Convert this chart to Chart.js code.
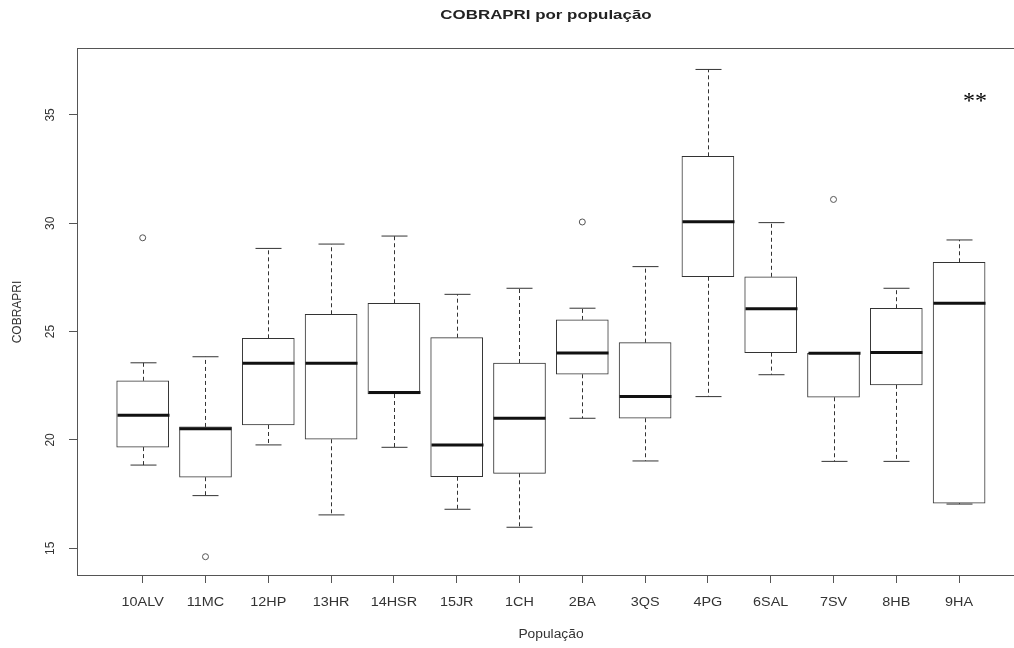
<!DOCTYPE html>
<html>
<head>
<meta charset="utf-8">
<title>COBRAPRI por população</title>
<script src="https://cdn.jsdelivr.net/npm/chart.js@4/dist/chart.umd.min.js"></script>
<style>
  html, body { margin: 0; padding: 0; background: #fff; overflow: hidden; }
  #wrap { width: 1014px; height: 648px; overflow: hidden; }
  #grafico { display: block; }
</style>
</head>
<body>
<div id="wrap"><canvas id="grafico" width="1020" height="648"></canvas></div>
<script>
// ==========================================
// 1. DADOS (lidos do boxplot original)
// ==========================================
const populacoes = ['10ALV', '11MC', '12HP', '13HR', '14HSR', '15JR', '1CH', '2BA', '3QS', '4PG', '6SAL', '7SV', '8HB', '9HA'];
const limInferior = [18.84, 17.43, 19.77, 16.54, 19.66, 16.80, 15.97, 21.00, 19.03, 22.00, 23.01, 19.01, 19.01, 17.04];
const quartil1    = [19.67, 18.28, 20.69, 20.03, 22.12, 18.30, 18.46, 23.03, 21.00, 27.53, 24.03, 21.97, 22.54, 17.08];
const mediana     = [21.14, 20.52, 23.54, 23.54, 22.19, 19.77, 21.00, 24.01, 22.00, 30.07, 26.06, 24.00, 24.03, 26.31];
const quartil3    = [22.73, 20.60, 24.69, 25.80, 26.31, 24.72, 23.55, 25.54, 24.49, 33.09, 27.53, 24.00, 26.08, 28.20];
const limSuperior = [23.56, 23.84, 28.84, 29.04, 29.41, 26.72, 27.00, 26.08, 28.00, 37.10, 30.03, 24.00, 27.00, 29.23];

// valores atípicos (círculos)
const outlierPop   = ['10ALV', '11MC', '2BA', '7SV'];
const outlierValor = [29.33, 14.61, 30.06, 31.10];

const yTicks = [15, 20, 25, 30, 35];

// ==========================================
// 2. PLUGIN: bigodes, medianas, moldura e textos
// ==========================================
function texto(ctx, str, x, y, font, cor, esticar, girar) {
  ctx.save();
  ctx.translate(x, y);
  if (girar) {
    ctx.rotate(-Math.PI / 2);
    ctx.scale(1, esticar);
  } else {
    ctx.scale(esticar, 1);
  }
  ctx.font = font;
  ctx.fillStyle = cor;
  ctx.textAlign = 'center';
  ctx.textBaseline = 'middle';
  ctx.fillText(str, 0, 0);
  ctx.restore();
}

function linha(ctx, x1, y1, x2, y2) {
  ctx.beginPath();
  ctx.moveTo(x1, y1);
  ctx.lineTo(x2, y2);
  ctx.stroke();
}

const pluginBoxplot = {
  id: 'pluginBoxplot',
  beforeDraw(chart) {
    const ctx = chart.ctx;
    ctx.save();
    ctx.fillStyle = '#ffffff';
    ctx.fillRect(0, 0, chart.width, chart.height);
    ctx.restore();
  },
  afterDatasetsDraw(chart) {
    const { ctx, scales: { x, y } } = chart;
    const meta = chart.getDatasetMeta(0);
    ctx.save();
    ctx.strokeStyle = '#333';
    populacoes.forEach((p, i) => {
      const barra = meta.data[i];
      const cx = Math.round(x.getPixelForValue(i + 1)) + 0.5;
      const meia = barra.width / 2;
      const yInf = y.getPixelForValue(limInferior[i]);
      const yQ1 = y.getPixelForValue(quartil1[i]);
      const yMed = y.getPixelForValue(mediana[i]);
      const yQ3 = y.getPixelForValue(quartil3[i]);
      const ySup = y.getPixelForValue(limSuperior[i]);

      // bigodes tracejados
      ctx.lineWidth = 1;
      ctx.setLineDash([4, 3]);
      if (ySup < yQ3) linha(ctx, cx, yQ3, cx, ySup);
      if (yInf > yQ1) linha(ctx, cx, yQ1, cx, yInf);
      ctx.setLineDash([]);

      // traços nas pontas (metade da largura da caixa)
      linha(ctx, cx - meia / 2, ySup, cx + meia / 2, ySup);
      linha(ctx, cx - meia / 2, yInf, cx + meia / 2, yInf);

      // mediana grossa
      ctx.strokeStyle = '#111';
      ctx.lineWidth = 3;
      linha(ctx, cx - meia, yMed, cx + meia, yMed);
      ctx.strokeStyle = '#333';
    });
    ctx.restore();
  },
  afterDraw(chart) {
    const { ctx, chartArea: a, scales: { x, y } } = chart;
    ctx.save();
    // moldura
    ctx.strokeStyle = '#555';
    ctx.lineWidth = 1;
    ctx.strokeRect(Math.round(a.left) + 0.5, Math.round(a.top) + 0.5,
      Math.round(a.right - a.left), Math.round(a.bottom - a.top) - 1);
    ctx.restore();

    const centroX = (a.left + a.right) / 2;
    const centroY = (a.top + a.bottom) / 2;

    // título
    texto(ctx, 'COBRAPRI por população', centroX, 15, 'bold 13px "Liberation Sans", Arial, sans-serif', '#222', 1.3, false);

    // rótulos do eixo x
    populacoes.forEach((p, i) => {
      texto(ctx, p, x.getPixelForValue(i + 1), 603, '12px "Liberation Sans", Arial, sans-serif', '#333', 1.2, false);
    });
    texto(ctx, 'População', centroX + 5, 635, '12px "Liberation Sans", Arial, sans-serif', '#333', 1.15, false);

    // rótulos do eixo y (verticais, como no R)
    yTicks.forEach(v => {
      texto(ctx, String(v), 51, y.getPixelForValue(v), '12px "Liberation Sans", Arial, sans-serif', '#333', 1.0, true);
    });
    texto(ctx, 'COBRAPRI', 18, centroY, '12px "Liberation Sans", Arial, sans-serif', '#333', 1.0, true);

    // marca de significância
    ctx.save();
    ctx.font = '24px "Liberation Serif", "DejaVu Serif", serif';
    ctx.fillStyle = '#000';
    ctx.textAlign = 'center';
    ctx.textBaseline = 'alphabetic';
    ctx.fillText('**', 975, 108);
    ctx.restore();
  }
};

// ==========================================
// 3. GRÁFICO
// ==========================================
const caixas = populacoes.map((p, i) => ({ x: i + 1, y: [quartil1[i], quartil3[i]] }));
const atipicos = outlierPop.map((p, k) => ({ x: populacoes.indexOf(p) + 1, y: outlierValor[k] }));

new Chart(document.getElementById('grafico').getContext('2d'), {
  type: 'bar',
  data: {
    datasets: [{
      label: 'Caixas',
      data: caixas,
      backgroundColor: '#ffffff',
      borderColor: '#333',
      borderWidth: 1,
      borderSkipped: false,
      barThickness: 52
    }, {
      type: 'scatter',
      label: 'Atípicos',
      data: atipicos,
      pointStyle: 'circle',
      pointRadius: 3,
      pointBackgroundColor: '#ffffff',
      pointBorderColor: '#555',
      pointBorderWidth: 1
    }]
  },
  options: {
    responsive: false,
    animation: false,
    events: [],
    layout: { padding: { left: 0, right: 5, top: 48, bottom: 0 } },
    plugins: {
      legend: { display: false },
      tooltip: { enabled: false },
      title: { display: false }
    },
    scales: {
      x: {
        type: 'linear',
        min: -0.046,
        max: 14.89,
        offset: false,
        afterBuildTicks: s => { s.ticks = populacoes.map((p, i) => ({ value: i + 1 })); },
        afterFit: s => { s.height = 72; },
        ticks: { display: false },
        grid: { offset: false, drawOnChartArea: false, drawTicks: true, tickLength: 7, tickColor: '#555' },
        border: { display: false }
      },
      y: {
        min: 13.72,
        max: 38.09,
        afterBuildTicks: s => { s.ticks = yTicks.map(v => ({ value: v })); },
        afterFit: s => { s.width = 77; },
        ticks: { display: false },
        grid: { drawOnChartArea: false, drawTicks: true, tickLength: 8, tickColor: '#555' },
        border: { display: false }
      }
    }
  },
  plugins: [pluginBoxplot]
});
</script>
</body>
</html>
